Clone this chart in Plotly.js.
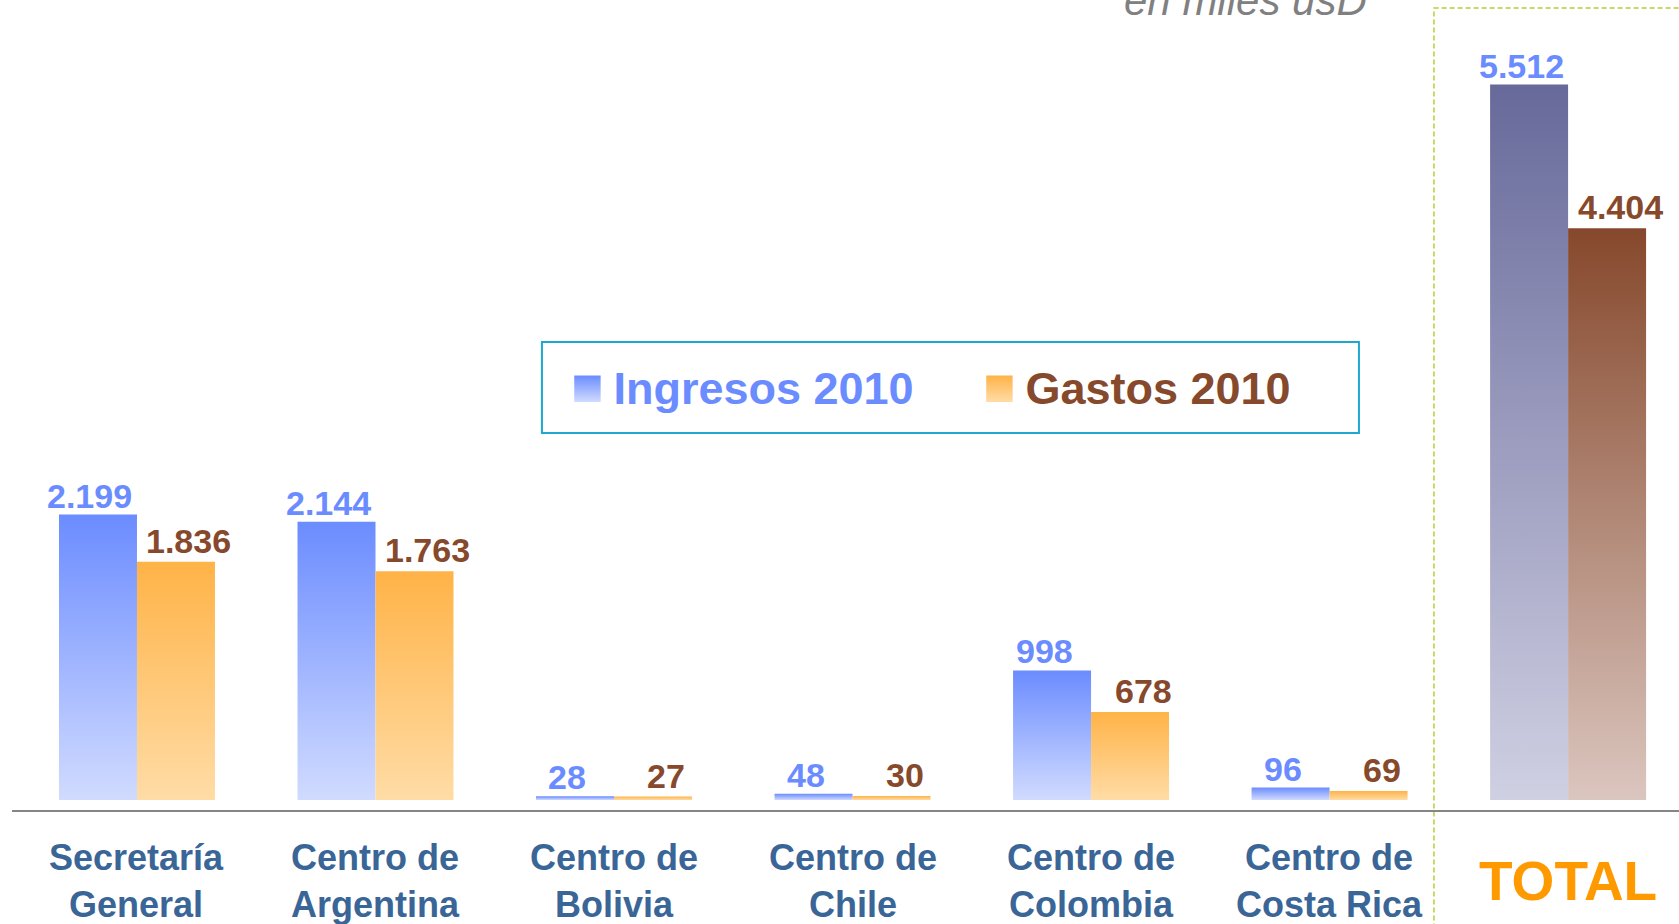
<!DOCTYPE html>
<html>
<head>
<meta charset="utf-8">
<script src="https://cdn.plot.ly/plotly-3.0.1.min.js"></script>
<style>
html,body{margin:0;padding:0;background:#fff;}
#chart{width:1679px;height:924px;}
</style>
</head>
<body>
<div id="chart"></div>
<script>
// ---- data ----
const categories = ["Secretaría<br>General", "Centro de<br>Argentina", "Centro de<br>Bolivia", "Centro de<br>Chile", "Centro de<br>Colombia", "Centro de<br>Costa Rica", "TOTAL"];
const ingresos2010 = [2199, 2144, 28, 48, 998, 96, 5512];
const gastos2010 = [1836, 1763, 27, 30, 678, 69, 4404];
const seriesNames = ["Ingresos 2010", "Gastos 2010"];
const unitNote = "en miles usD";

// ---- styles ----
const FONT = "Liberation Sans, Arial, Helvetica, sans-serif";
const ingTop = "#6b8cff", ingBottom = "#d1dbff";
const gasTop = "#ffb347", gasBottom = "#ffdca6";
const totIngTop = "#67699a", totIngBottom = "#d0d0e3";
const totGasTop = "#86482c", totGasBottom = "#dbc6bf";
const ingLabel = "#6b8cff", gasLabel = "#87492c";
const catColor = "#3a6597", totalColor = "#ff9900";

const last = categories.length - 1;
const ingColors = categories.map((c, i) => i === last ? totIngTop : ingTop);
const gasColors = categories.map((c, i) => i === last ? totGasTop : gasTop);
const bottomOf = {};
bottomOf[ingTop] = ingBottom; bottomOf[gasTop] = gasBottom;
bottomOf[totIngTop] = totIngBottom; bottomOf[totGasTop] = totGasBottom;

const traces = [
  {type: "bar", x: categories, y: ingresos2010, name: `<span style="color:${ingLabel}">${seriesNames[0]}</span>`,
   marker: {color: ingColors, line: {width: 0}}, hoverinfo: "none"},
  {type: "bar", x: categories, y: gastos2010, name: `<span style="color:${gasLabel}">${seriesNames[1]}</span>`,
   marker: {color: gasColors, line: {width: 0}}, hoverinfo: "none"}
];

const annotations = [];
categories.forEach((c, i) => {
  annotations.push({x: c, xref: "x", y: ingresos2010[i], yref: "y", text: ingresos2010[i].toLocaleString("de-DE"),
    showarrow: false, xanchor: "center", yanchor: "bottom", xshift: -47, yshift: -1, borderpad: 0,
    font: {family: FONT, size: 34, weight: "bold", color: ingLabel}});
  annotations.push({x: c, xref: "x", y: gastos2010[i], yref: "y", text: gastos2010[i].toLocaleString("de-DE"),
    showarrow: false, xanchor: "center", yanchor: "bottom", xshift: 52, yshift: 1, borderpad: 0,
    font: {family: FONT, size: 34, weight: "bold", color: gasLabel}});
  const isTot = i === last;
  annotations.push({x: c, xref: "x", y: 0, yref: "paper", text: c, showarrow: false,
    xanchor: "center", yanchor: "middle", yshift: isTot ? -71 : -71, align: "center",
    font: {family: FONT, size: isTot ? 55 : 36, weight: "bold", color: isTot ? totalColor : catColor}});
});
annotations.push({x: 0.74, xref: "paper", y: 1, yref: "paper", text: `<i>${unitNote}</i>`, showarrow: false,
  xanchor: "center", yanchor: "middle", yshift: 0,
  font: {family: FONT, size: 42, color: "#808080"}});

const layout = {
  width: 1679, height: 924,
  margin: {l: 12, r: 0, t: 0, b: 114, pad: 0},
  paper_bgcolor: "#ffffff", plot_bgcolor: "#ffffff",
  barmode: "group", bargap: 0.346, bargroupgap: 0,
  separators: ",.",
  font: {family: FONT},
  xaxis: {type: "category", range: [-0.524, 6.465], showticklabels: false, ticks: "", showgrid: false,
          zeroline: false, showline: true, linecolor: "#858585", linewidth: 2, fixedrange: true},
  yaxis: {range: [-77, 6163], visible: false, showgrid: false, zeroline: false, fixedrange: true},
  showlegend: true,
  legend: {orientation: "h", x: 0.3296, xanchor: "left", y: 0.5666, yanchor: "top",
           borderwidth: 0, bgcolor: "rgba(0,0,0,0)", itemwidth: 42,
           entrywidth: 355, entrywidthmode: "pixels",
           font: {family: FONT, size: 45, weight: "bold", color: "#6b8cff"}},
  annotations: annotations,
  shapes: [
    {type: "rect", xref: "paper", yref: "paper", x0: 0.853, x1: 1.05, y0: -0.2, y1: 0.990,
     line: {color: "#b2d235", width: 1.5, dash: "5px,3px"}, fillcolor: "rgba(0,0,0,0)", layer: "below"},
    {type: "rect", xref: "paper", yref: "paper", x0: 0.3179, x1: 0.808, y0: 0.4654, y1: 0.5778,
     line: {color: "#1ea7cf", width: 2}, fillcolor: "rgba(0,0,0,0)", layer: "above"}
  ]
};

function applyGradients(gd) {
  const NS = "http://www.w3.org/2000/svg";
  const svg = gd.querySelector(".main-svg");
  let defs = svg.querySelector("defs");
  if (!defs) { defs = document.createElementNS(NS, "defs"); svg.insertBefore(defs, svg.firstChild); }
  const made = {};
  function grad(top) {
    const id = "grad" + top.replace("#", "");
    if (!made[id]) {
      const lg = document.createElementNS(NS, "linearGradient");
      lg.setAttribute("id", id);
      lg.setAttribute("x1", "0"); lg.setAttribute("y1", "0");
      lg.setAttribute("x2", "0"); lg.setAttribute("y2", "1");
      [[0, top], [1, bottomOf[top]]].forEach(([o, c]) => {
        const s = document.createElementNS(NS, "stop");
        s.setAttribute("offset", o); s.setAttribute("stop-color", c);
        lg.appendChild(s);
      });
      defs.appendChild(lg);
      made[id] = true;
    }
    return "url(#" + id + ")";
  }
  const colorSets = [ingColors, gasColors];
  gd.querySelectorAll(".barlayer .trace").forEach((tr, ti) => {
    tr.querySelectorAll(".point path").forEach((p, pi) => {
      p.style.fill = grad(colorSets[ti][pi]);
    });
  });
  gd.querySelectorAll(".legend .traces").forEach((tr, ti) => {
    tr.querySelectorAll(".legendpoints path").forEach(p => {
      const t = p.getAttribute("transform") || "";
      p.setAttribute("transform", t + " translate(0,2) scale(2.2)");
      p.style.fill = grad(colorSets[ti][0]);
      p.style.stroke = "none";
    });
  });
}

Plotly.newPlot("chart", traces, layout, {staticPlot: true, displayModeBar: false}).then(applyGradients);
</script>
</body>
</html>
